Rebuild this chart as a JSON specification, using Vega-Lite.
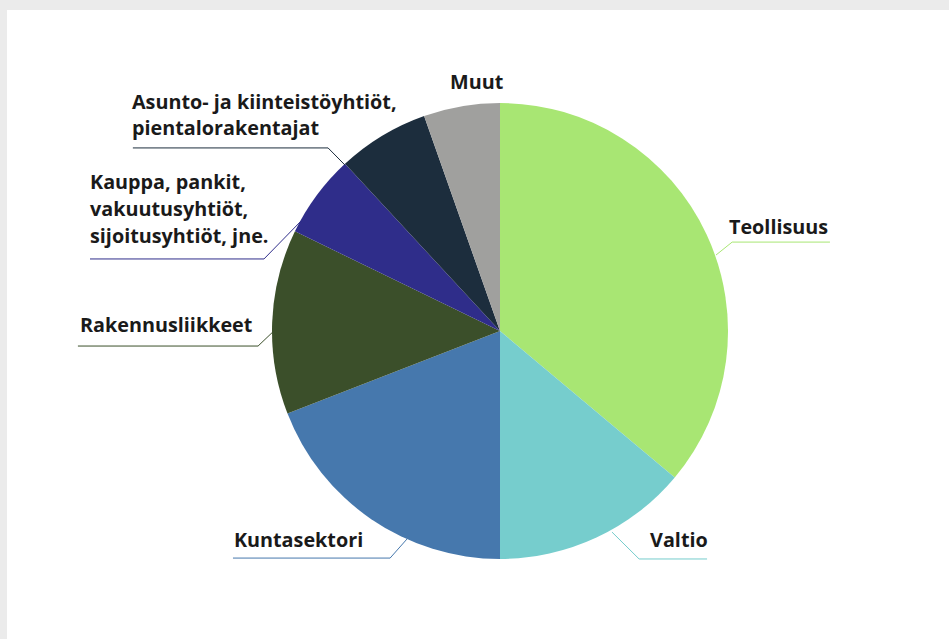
{
  "$schema": "https://vega.github.io/schema/vega-lite/v6.json",
  "width": 942,
  "height": 629,
  "autosize": {"type": "none"},
  "padding": {"left": 7, "top": 10, "right": 0, "bottom": 0},
  "background": "#ebebeb",
  "config": {"view": {"fill": "white", "stroke": null}},
  "datasets": {
    "slices": [
      {"sector": "Teollisuus", "share": 36.1, "rank": 1},
      {"sector": "Valtio", "share": 13.9, "rank": 2},
      {"sector": "Kuntasektori", "share": 19.1, "rank": 3},
      {"sector": "Rakennusliikkeet", "share": 13.1, "rank": 4},
      {"sector": "Kauppa, pankit, vakuutusyhtiöt, sijoitusyhtiöt, jne.", "share": 5.9, "rank": 5},
      {"sector": "Asunto- ja kiinteistöyhtiöt, pientalorakentajat", "share": 6.5, "rank": 6},
      {"sector": "Muut", "share": 5.4, "rank": 7}
    ],
    "leaders": [
      {"sector": "Teollisuus", "pt": 1, "x": 94.7, "y": 33.3},
      {"sector": "Teollisuus", "pt": 2, "x": 101.8, "y": 39.0},
      {"sector": "Teollisuus", "pt": 3, "x": 144.7, "y": 39.0},
      {"sector": "Valtio", "pt": 1, "x": 49.1, "y": -88.2},
      {"sector": "Valtio", "pt": 2, "x": 61.0, "y": -100.0},
      {"sector": "Valtio", "pt": 3, "x": 90.8, "y": -100.0},
      {"sector": "Kuntasektori", "pt": 1, "x": -40.4, "y": -90.8},
      {"sector": "Kuntasektori", "pt": 2, "x": -48.2, "y": -99.6},
      {"sector": "Kuntasektori", "pt": 3, "x": -117.1, "y": -99.6},
      {"sector": "Rakennusliikkeet", "pt": 1, "x": -99.6, "y": -0.4},
      {"sector": "Rakennusliikkeet", "pt": 2, "x": -106.1, "y": -6.6},
      {"sector": "Rakennusliikkeet", "pt": 3, "x": -185.1, "y": -6.6},
      {"sector": "Kauppa, pankit, vakuutusyhtiöt, sijoitusyhtiöt, jne.", "pt": 1, "x": -86.8, "y": 48.7},
      {"sector": "Kauppa, pankit, vakuutusyhtiöt, sijoitusyhtiöt, jne.", "pt": 2, "x": -103.5, "y": 31.6},
      {"sector": "Kauppa, pankit, vakuutusyhtiöt, sijoitusyhtiöt, jne.", "pt": 3, "x": -179.8, "y": 31.6},
      {"sector": "Asunto- ja kiinteistöyhtiöt, pientalorakentajat", "pt": 1, "x": -68.0, "y": 72.8},
      {"sector": "Asunto- ja kiinteistöyhtiöt, pientalorakentajat", "pt": 2, "x": -75.4, "y": 80.3},
      {"sector": "Asunto- ja kiinteistöyhtiöt, pientalorakentajat", "pt": 3, "x": -161.0, "y": 80.3}
    ],
    "labels": [
      {"text": "Muut", "x": -21.9, "y": 106.1},
      {"text": "Asunto- ja kiinteistöyhtiöt,", "x": -161.4, "y": 97.4},
      {"text": "pientalorakentajat", "x": -161.4, "y": 86.0},
      {"text": "Kauppa, pankit,", "x": -179.8, "y": 62.3},
      {"text": "vakuutusyhtiöt,", "x": -179.8, "y": 50.4},
      {"text": "sijoitusyhtiöt, jne.", "x": -179.8, "y": 38.6},
      {"text": "Rakennusliikkeet", "x": -184.2, "y": -0.4},
      {"text": "Kuntasektori", "x": -116.7, "y": -94.7},
      {"text": "Valtio", "x": 65.8, "y": -94.7},
      {"text": "Teollisuus", "x": 100.4, "y": 42.5}
    ]
  },
  "layer": [
    {
      "data": {"name": "slices"},
      "mark": {"type": "arc", "outerRadius": 228},
      "encoding": {
        "theta": {"field": "share", "type": "quantitative", "stack": true},
        "order": {"field": "rank", "type": "quantitative"},
        "color": {
          "field": "sector", "type": "nominal", "legend": null,
          "scale": {
            "domain": ["Teollisuus", "Valtio", "Kuntasektori", "Rakennusliikkeet", "Kauppa, pankit, vakuutusyhtiöt, sijoitusyhtiöt, jne.", "Asunto- ja kiinteistöyhtiöt, pientalorakentajat", "Muut"],
            "range": ["#a8e673", "#76cdcd", "#4678ad", "#3b4f2a", "#2f2d8a", "#1c2d3d", "#a0a09e"]
          }
        },
        "x": {"datum": 0, "type": "quantitative", "scale": {"domain": [-216.2, 196.9], "nice": false, "zero": false}, "axis": null},
        "y": {"datum": 0, "type": "quantitative", "scale": {"domain": [-135.1, 140.8], "nice": false, "zero": false}, "axis": null}
      }
    },
    {
      "data": {"name": "leaders"},
      "mark": {"type": "line", "strokeWidth": 1},
      "encoding": {
        "x": {"field": "x", "type": "quantitative"},
        "y": {"field": "y", "type": "quantitative"},
        "detail": {"field": "sector"},
        "order": {"field": "pt", "type": "quantitative"},
        "color": {"field": "sector", "type": "nominal", "legend": null}
      }
    },
    {
      "data": {"name": "labels"},
      "mark": {"type": "text", "align": "left", "baseline": "alphabetic", "font": "Open Sans", "fontWeight": "bold", "fontSize": 19.8, "color": "#1a1a1a"},
      "encoding": {
        "x": {"field": "x", "type": "quantitative"},
        "y": {"field": "y", "type": "quantitative"},
        "text": {"field": "text"}
      }
    }
  ]
}
